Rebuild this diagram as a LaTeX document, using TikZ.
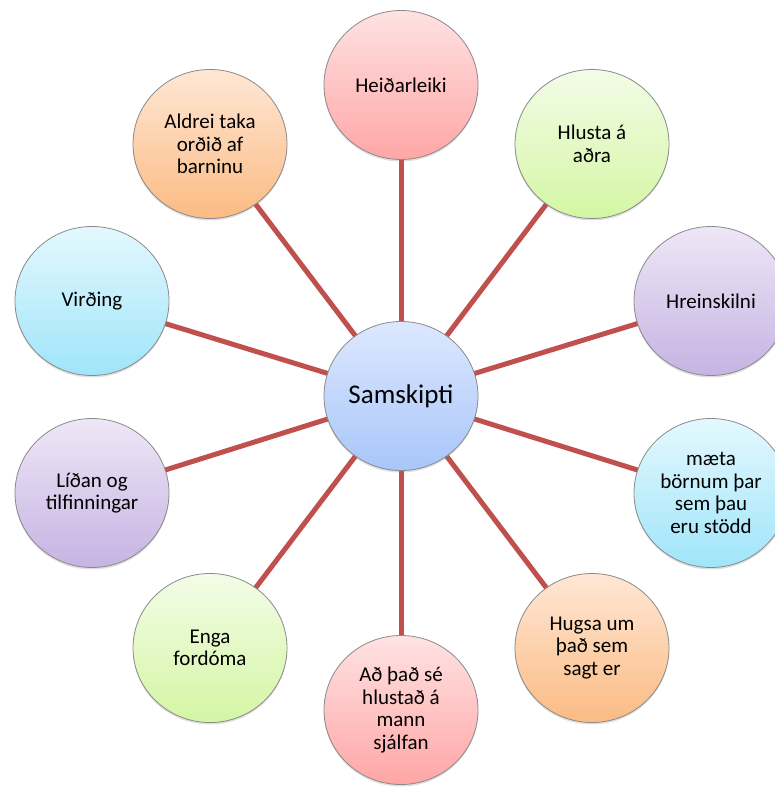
\documentclass[tikz,border=0pt]{standalone}
\usepackage{fontspec}
\setmainfont{Carlito}
\usetikzlibrary{shapes.geometric,shadows,backgrounds}
\definecolor{spoke}{HTML}{C0504D}
\definecolor{rim}{HTML}{8A8A8A}
\definecolor{pinkT}{HTML}{FFE2E2}\definecolor{pinkB}{HTML}{FFA6A6}
\definecolor{greenT}{HTML}{F3FCE7}\definecolor{greenB}{HTML}{D4F6A4}
\definecolor{purpT}{HTML}{EEE7F6}\definecolor{purpB}{HTML}{C6B3E3}
\definecolor{cyanT}{HTML}{E4F8FE}\definecolor{cyanB}{HTML}{A0E5FA}
\definecolor{oranT}{HTML}{FFE7D5}\definecolor{oranB}{HTML}{FBBB84}
\definecolor{blueT}{HTML}{DDE8FE}\definecolor{blueB}{HTML}{A8C6FA}
\begin{document}
\begin{tikzpicture}[x=1pt,y=-1pt,
  bub/.style={ellipse, minimum width=154pt, minimum height=149pt, inner sep=0pt,
    draw=rim, line width=0.8pt, align=center,
    font=\fontsize{21}{22.5}\selectfont,
    drop shadow={shadow xshift=0pt, shadow yshift=-2pt, opacity=0.25}},
  pinkb/.style={bub, top color=pinkT, bottom color=pinkB},
  greenb/.style={bub, top color=greenT, bottom color=greenB},
  purpb/.style={bub, top color=purpT, bottom color=purpB},
  cyanb/.style={bub, top color=cyanT, bottom color=cyanB},
  oranb/.style={bub, top color=oranT, bottom color=oranB},
  hubb/.style={bub, top color=blueT, bottom color=blueB, font=\fontsize{27}{29}\selectfont},
  spokeline/.style={draw=spoke, line width=5pt}
]
\useasboundingbox (0,0) rectangle (775,810);
\node[hubb] (c) at (401,396) {Samskipti};
\node[pinkb] (n1) at (401,85) {Heiðarleiki};
\node[greenb] (n2) at (592,144) {Hlusta á\\aðra};
\node[purpb] (n3) at (711,301) {Hreinskilni};
\node[cyanb] (n4) at (711,493) {mæta\\börnum þar\\sem þau\\eru stödd};
\node[oranb] (n5) at (592,648) {Hugsa um\\það sem\\sagt er};
\node[pinkb] (n6) at (401,710) {Að það sé\\hlustað á\\mann\\sjálfan};
\node[greenb] (n7) at (210,648) {Enga\\fordóma};
\node[purpb] (n8) at (92,493) {Líðan og\\tilfinningar};
\node[cyanb] (n9) at (92,301) {Virðing};
\node[oranb] (n10) at (210,144) {Aldrei taka\\orðið af\\barninu};
\begin{scope}[on background layer]
\foreach \n in {n1,n2,n3,n4,n5,n6,n7,n8,n9,n10}
  \draw[spokeline] (c.center) -- (\n.center);
\end{scope}
\end{tikzpicture}
\end{document}
